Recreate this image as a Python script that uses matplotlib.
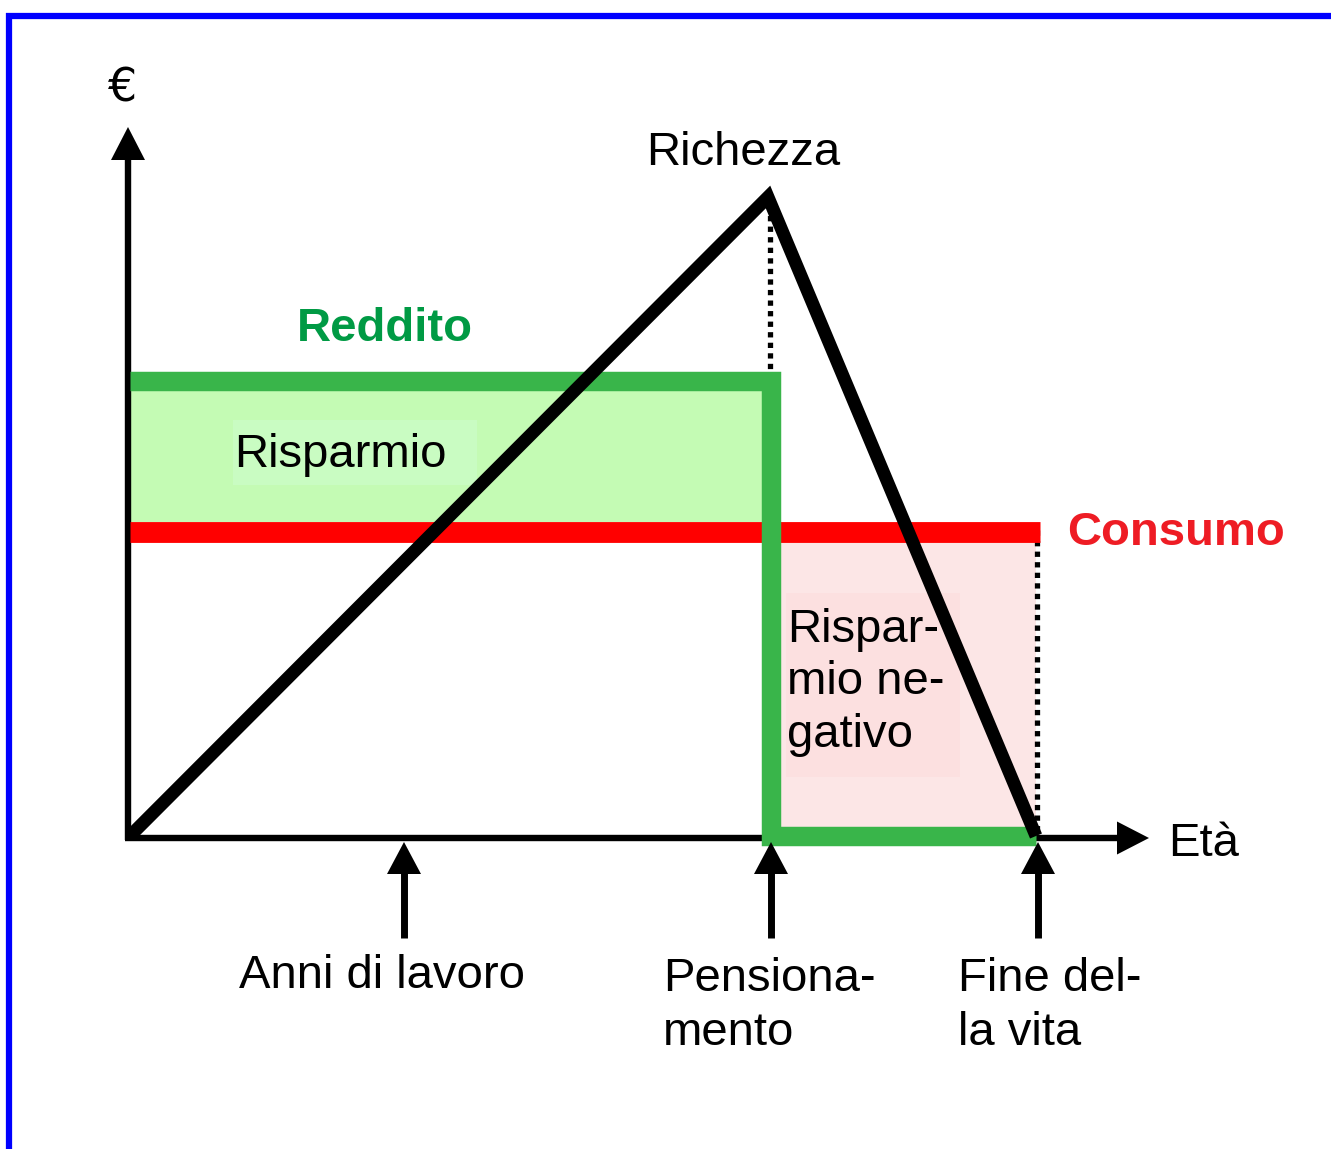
import matplotlib.pyplot as plt
from matplotlib.patches import Rectangle

plt.rcParams['font.family'] = ['Liberation Sans', 'DejaVu Sans']

# diagram values (in picture units, y grows downward)
x_start = 130
x_retire = 771
x_end = 1036
y_base = 836
y_income = 381
y_consumo = 532
y_peak = 197

wealth_x = [x_start, x_retire - 3, x_end]
wealth_y = [y_base, y_peak, y_base]

income_x = [x_start, x_retire, x_retire, x_end]
income_y = [y_income, y_income, y_base, y_base]

consumo_x = [x_start, x_end + 4]
consumo_y = [y_consumo, y_consumo]

event_labels = ["Anni di lavoro", "Pensiona-\nmento", "Fine del-\nla vita"]
event_x = [404, 771, 1038]
event_text_x = [382, 663, 958]
event_text_y = [988, 1045, 1045]
event_ha = ["center", "left", "left"]

GREEN_LINE = "#39b54a"
GREEN_FILL = "#c4fbb4"
PINK_FILL = "#fce6e6"

fig = plt.figure(figsize=(13.31, 11.49), dpi=100)
ax = fig.add_axes([0, 0, 1, 1])
ax.set_xlim(0, 1331)
ax.set_ylim(1149, 0)
ax.axis("off")

# blue frame
ax.plot([6, 1331], [16, 16], color="#0000ff", lw=4.5, solid_capstyle="butt")
ax.plot([9, 9], [13, 1149], color="#0000ff", lw=4.5, solid_capstyle="butt")

# shaded areas
ax.fill_between([x_start, x_retire - 7], y_income + 10, y_consumo - 10,
                color=GREEN_FILL, lw=0, zorder=1)
ax.fill_between([x_retire + 8, x_end], y_consumo + 10, y_base - 8,
                color=PINK_FILL, lw=0, zorder=1)
ax.add_patch(Rectangle((233, 420), 244, 65, color="#c9fcc2", lw=0, zorder=2))
ax.add_patch(Rectangle((786, 593), 174, 184, color="#fce0e0", lw=0, zorder=2))

# axes
ax.plot([128, 128], [840, 150], color="black", lw=4.6, solid_capstyle="butt", zorder=3)
ax.arrow(128, 160, 0, -33, width=1, head_width=34, head_length=33,
         length_includes_head=True, color="black", lw=0, zorder=3)
ax.plot([125, 1125], [838, 838], color="black", lw=4.6, solid_capstyle="butt", zorder=3)
ax.arrow(1117, 838, 32, 0, width=1, head_width=33, head_length=32,
         length_includes_head=True, color="black", lw=0, zorder=3)

# dotted guides
ax.plot([770, 770], [205, 372], color="black", lw=3.8, ls=(0, (1, 1)),
        dash_capstyle="butt", zorder=3)
ax.plot([1037, 1037], [530, 830], color="black", lw=3.8, ls=(0, (1, 1)),
        dash_capstyle="butt", zorder=3)

# consumption and income
ax.plot(consumo_x, consumo_y, color="#ff0000", lw=15, solid_capstyle="butt", zorder=4)
ax.plot(income_x, income_y, color=GREEN_LINE, lw=14, solid_capstyle="butt",
        solid_joinstyle="miter", zorder=5)

# wealth
ax.plot(wealth_x, wealth_y, color="black", lw=9.3, solid_capstyle="butt",
        solid_joinstyle="miter", zorder=6)

# event arrows
for ex, lab, tx, ty, ha in zip(event_x, event_labels, event_text_x,
                               event_text_y, event_ha):
    ax.plot([ex, ex], [938, 868], color="black", lw=5, solid_capstyle="butt", zorder=6)
    ax.arrow(ex, 874, 0, -32, width=1, head_width=34, head_length=32,
             length_includes_head=True, color="black", lw=0, zorder=6)
    ax.text(tx, ty, lab, fontsize=34, ha=ha, va="baseline", linespacing=1.28)

fs = 34
ax.text(123, 89, "€", fontsize=33, ha="center", va="center", family="DejaVu Sans")
ax.text(1168, 856, "Età", fontsize=fs, ha="left", va="baseline")
ax.text(743, 165, "Richezza", fontsize=fs, ha="center", va="baseline")
ax.text(297, 341, "Reddito", fontsize=fs, ha="left", va="baseline",
        color="#009a44", fontweight="bold")
ax.text(1067, 545, "Consumo", fontsize=fs, ha="left", va="baseline",
        color="#ee1c24", fontweight="bold")
ax.text(234, 467, "Risparmio", fontsize=fs, ha="left", va="baseline", zorder=7)
ax.text(787, 747, "Rispar-\nmio ne-\ngativo", fontsize=fs, ha="left",
        va="baseline", linespacing=1.25, zorder=7)

fig.savefig("out.png", dpi=100)
